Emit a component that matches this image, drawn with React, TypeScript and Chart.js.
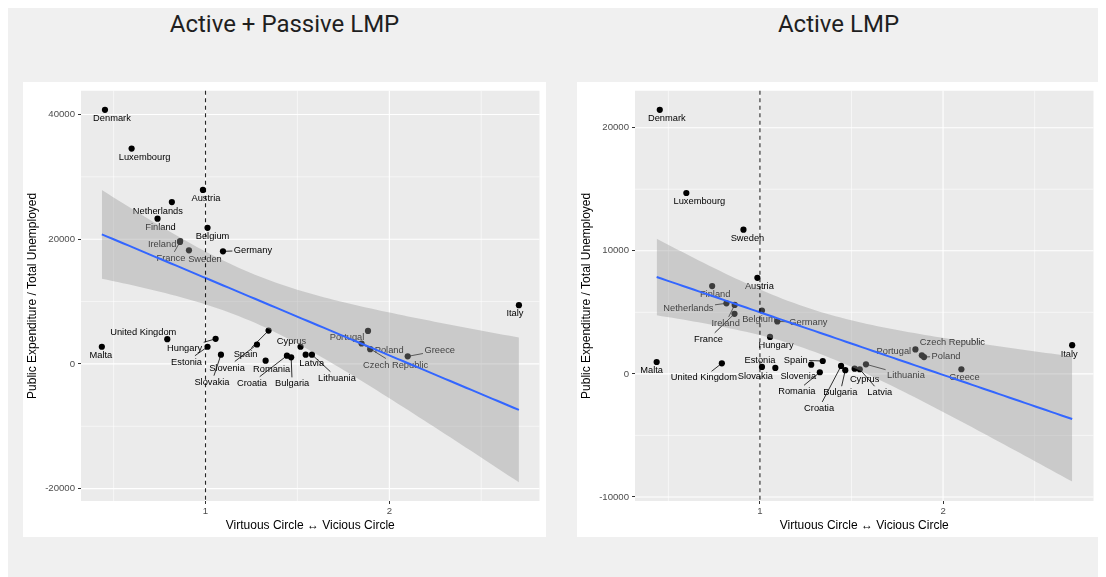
import React, { useEffect, useRef } from "react";
import { Chart, registerables } from "chart.js";

Chart.register(...registerables);

// ---------------- data ----------------
const countries = [
  "Denmark", "Luxembourg", "Austria", "Netherlands", "Finland", "Belgium", "Ireland",
  "France", "Sweden", "Germany", "Malta", "United Kingdom", "Hungary", "Estonia",
  "Slovakia", "Slovenia", "Spain", "Romania", "Croatia", "Bulgaria", "Cyprus",
  "Latvia", "Lithuania", "Portugal", "Czech Republic", "Poland", "Greece", "Italy",
];

// Virtuous Circle <-> Vicious Circle score (x)
const circleScore = [
  0.453, 0.598, 0.986, 0.817, 0.739, 1.011, 0.862,
  0.861, 0.91, 1.095, 0.436, 0.792, 1.055, 1.011,
  1.084, 1.28, 1.343, 1.327, 1.443, 1.466, 1.517,
  1.545, 1.579, 1.884, 1.849, 1.896, 2.1, 2.705,
];

// Public expenditure / total unemployed, Active + Passive LMP
const activePassiveSpend = [
  40750, 34530, 27903, 25949, 23295, 21817, 19688,
  19560, 18210, 18051, 2749, 3957, 4020, 2749,
  1478, 3114, 5339, 524, 1319, 1049, 2749,
  1478, 1478, 5291, 3273, 2368, 1208, 9423,
];

// Public expenditure / total unemployed, Active LMP
const activeSpend = [
  21450, 14692, 7799, 5732, 7132, 5145, 5604,
  4880, 11716, 4260, 963, 858, 2998, 561,
  480, 746, 1043, 130, 641, 295, 424,
  376, 778, 1502, 1984, 1365, 376, 2330,
];

const xTicks = [1, 2];
const xMinorTicks = [0.5, 1.5, 2.5];
const apYTicks = [-20000, 0, 20000, 40000];
const apYMinor = [-10000, 10000, 30000];
const aYTicks = [-10000, 0, 10000, 20000];
const aYMinor = [-5000, 5000, 15000];

const titleLeft = "Active + Passive LMP";
const titleRight = "Active LMP";
const xTitle = "Virtuous Circle \u2194 Vicious Circle";
const yTitle = "Public Expenditure / Total Unemployed";

// t quantile (0.975) for n - 2 = 26 degrees of freedom
const T_CRIT = 2.0555;

// ---------------- label layout (pixel nudges, like ggrepel) ----------------
type Offset = [number, number];
const apLabelNudge: Offset[] = [
  [7, 8], [13, 8], [3, 8], [-14, 9], [3, 8], [5, 8], [-18, 3],
  [-9, 16], [16, 9], [30, -1], [-1, 8], [-24, -7], [-31, 9], [-21, 15],
  [-9, 27], [-30, 23], [-23, 23], [6, 8], [-35, 27], [1, 26], [-9, -6],
  [6, 8], [25, 23], [-21, 6], [34, 21], [19, 1], [32, -6], [-4, 8],
];
const apSegments = [
  "France", "Germany", "Hungary", "Estonia", "Slovakia", "Slovenia", "Spain",
  "Croatia", "Bulgaria", "Lithuania", "Czech Republic", "Poland", "Greece",
];
const aLabelNudge: Offset[] = [
  [7, 8], [13, 8], [2, 8], [-38, 5], [3, 8], [-3, 8], [-9, 18],
  [-26, 25], [4, 8], [31, 1], [-5, 8], [-18, 14], [6, 8], [-2, -7],
  [-20, 8], [-13, 11], [-27, -1], [-23, 19], [-22, 42], [-5, 22], [10, 10],
  [20, 23], [40, 11], [-28, -4], [37, -8], [22, -1], [3, 8], [-3, 9],
];
const aSegments = [
  "Netherlands", "Ireland", "France", "Germany", "United Kingdom", "Spain",
  "Romania", "Croatia", "Bulgaria", "Latvia", "Lithuania", "Poland",
];

const AXIS_FONT = '"Liberation Sans", Arial, Helvetica, sans-serif';

function fitLm(xs: number[], ys: number[]) {
  const n = xs.length;
  const mx = xs.reduce((a, b) => a + b, 0) / n;
  const my = ys.reduce((a, b) => a + b, 0) / n;
  let sxx = 0, sxy = 0;
  for (let i = 0; i < n; i++) {
    sxx += (xs[i] - mx) ** 2;
    sxy += (xs[i] - mx) * (ys[i] - my);
  }
  const b = sxy / sxx;
  const a = my - b * mx;
  let rss = 0;
  for (let i = 0; i < n; i++) rss += (ys[i] - (a + b * xs[i])) ** 2;
  const s = Math.sqrt(rss / (n - 2));
  return { a, b, s, mx, sxx, n };
}

type PanelProps = {
  values: number[];
  yMin: number;
  yMax: number;
  xMin: number;
  xMax: number;
  yTicks: number[];
  yMinor: number[];
  nudge: Offset[];
  segments: string[];
};

function ScatterPanel(p: PanelProps) {
  const ref = useRef<HTMLCanvasElement | null>(null);
  useEffect(() => {
    const canvas = ref.current;
    if (!canvas) return;
    const fit = fitLm(circleScore, p.values);
    const lo = Math.min(...circleScore);
    const hi = Math.max(...circleScore);
    const N = 80;
    const upper: { x: number; y: number }[] = [];
    const lower: { x: number; y: number }[] = [];
    const line: { x: number; y: number }[] = [];
    for (let k = 0; k < N; k++) {
      const x = lo + ((hi - lo) * k) / (N - 1);
      const yh = fit.a + fit.b * x;
      const se = fit.s * Math.sqrt(1 / fit.n + (x - fit.mx) ** 2 / fit.sxx);
      upper.push({ x, y: yh + T_CRIT * se });
      lower.push({ x, y: yh - T_CRIT * se });
      line.push({ x, y: yh });
    }
    const pts = circleScore.map((x, i) => ({ x, y: p.values[i] }));

    const panelPlugin = {
      id: "panelBg",
      beforeDraw(chart: any) {
        const { ctx, chartArea: ca, scales } = chart;
        ctx.save();
        ctx.fillStyle = "#EBEBEB";
        ctx.fillRect(ca.left, ca.top, ca.right - ca.left, ca.bottom - ca.top);
        ctx.strokeStyle = "#FFFFFF";
        ctx.lineWidth = 0.55;
        ctx.beginPath();
        xMinorTicks.forEach((v) => {
          const x = scales.x.getPixelForValue(v);
          ctx.moveTo(x, ca.top);
          ctx.lineTo(x, ca.bottom);
        });
        p.yMinor.forEach((v) => {
          const y = scales.y.getPixelForValue(v);
          ctx.moveTo(ca.left, y);
          ctx.lineTo(ca.right, y);
        });
        ctx.stroke();
        ctx.lineWidth = 1.1;
        ctx.beginPath();
        xTicks.forEach((v) => {
          const x = scales.x.getPixelForValue(v);
          ctx.moveTo(x, ca.top);
          ctx.lineTo(x, ca.bottom);
        });
        p.yTicks.forEach((v) => {
          const y = scales.y.getPixelForValue(v);
          ctx.moveTo(ca.left, y);
          ctx.lineTo(ca.right, y);
        });
        ctx.stroke();
        ctx.restore();
      },
    };

    const labelPlugin = {
      id: "countryLabels",
      afterDatasetDraw(chart: any, args: any) {
        if (args.index !== 0) return;
        const { ctx, scales, chartArea: ca } = chart;
        ctx.save();
        ctx.beginPath();
        ctx.rect(ca.left, ca.top, ca.right - ca.left, ca.bottom - ca.top);
        ctx.clip();
        ctx.font = `9.3px ${AXIS_FONT}`;
        ctx.textAlign = "center";
        ctx.textBaseline = "middle";
        countries.forEach((name, i) => {
          const px = scales.x.getPixelForValue(circleScore[i]);
          const py = scales.y.getPixelForValue(p.values[i]);
          const [dx, dy] = p.nudge[i];
          const cx = px + dx;
          const cy = py + dy;
          if (p.segments.includes(name)) {
            const w = ctx.measureText(name).width;
            const hw = w / 2 + 1.5;
            const hh = 6;
            const vx = px - cx;
            const vy = py - cy;
            const t = Math.min(
              vx !== 0 ? hw / Math.abs(vx) : Infinity,
              vy !== 0 ? hh / Math.abs(vy) : Infinity
            );
            if (t < 1) {
              ctx.strokeStyle = "#000";
              ctx.lineWidth = 0.8;
              ctx.beginPath();
              ctx.moveTo(cx + vx * t, cy + vy * t);
              ctx.lineTo(px, py);
              ctx.stroke();
            }
          }
          ctx.fillStyle = "#000";
          ctx.fillText(name, cx, cy + 0.5);
        });
        ctx.restore();
      },
    };

    const overlayPlugin = {
      id: "overlay",
      afterDatasetsDraw(chart: any) {
        const { ctx, scales, chartArea: ca } = chart;
        const x = scales.x.getPixelForValue(1);
        ctx.save();
        ctx.strokeStyle = "rgba(0,0,0,0.85)";
        ctx.lineWidth = 1.1;
        ctx.setLineDash([4, 3.5]);
        ctx.beginPath();
        ctx.moveTo(x, ca.top);
        ctx.lineTo(x, ca.bottom);
        ctx.stroke();
        ctx.restore();
      },
      afterDraw(chart: any) {
        const { ctx, chartArea: ca, height } = chart;
        ctx.save();
        ctx.fillStyle = "#000";
        ctx.font = `12px ${AXIS_FONT}`;
        ctx.textAlign = "center";
        ctx.textBaseline = "middle";
        ctx.fillText(xTitle, (ca.left + ca.right) / 2, height - 11);
        ctx.translate(10, (ca.top + ca.bottom) / 2);
        ctx.rotate(-Math.PI / 2);
        ctx.fillText(yTitle, 0, 0);
        ctx.restore();
      },
    };

    const tickFont = { family: AXIS_FONT, size: 9.6 };
    const chart = new Chart(canvas, {
      type: "scatter",
      data: {
        datasets: [
          {
            type: "scatter",
            data: pts,
            pointRadius: 3.1,
            pointBackgroundColor: "#000",
            pointBorderWidth: 0,
            pointBorderColor: "transparent",
            order: 4,
          } as any,
          {
            type: "line",
            data: upper,
            fill: "+1",
            backgroundColor: "rgba(153,153,153,0.4)",
            borderColor: "transparent",
            borderWidth: 0,
            pointRadius: 0,
            tension: 0,
            order: 3,
          } as any,
          {
            type: "line",
            data: lower,
            fill: false,
            borderColor: "transparent",
            borderWidth: 0,
            pointRadius: 0,
            tension: 0,
            order: 2,
          } as any,
          {
            type: "line",
            data: line,
            fill: false,
            borderColor: "#3366FF",
            borderWidth: 2,
            pointRadius: 0,
            tension: 0,
            order: 1,
          } as any,
        ],
      },
      options: {
        animation: false,
        responsive: false,
        devicePixelRatio: 1,
        events: [],
        layout: { padding: { top: 5, right: 6.5, left: 0, bottom: 0 } },
        plugins: { legend: { display: false }, tooltip: { enabled: false }, title: { display: false } },
        scales: {
          x: {
            type: "linear",
            position: "bottom",
            min: p.xMin,
            max: p.xMax,
            afterBuildTicks: (s: any) => {
              s.ticks = xTicks.map((v) => ({ value: v }));
            },
            afterFit: (s: any) => {
              s.height = 36;
            },
            ticks: {
              autoSkip: false,
              maxRotation: 0,
              padding: 2,
              color: "#4D4D4D",
              font: tickFont,
              callback: (v: any) => String(v),
            },
            grid: { drawOnChartArea: false, drawTicks: true, tickLength: 3, tickColor: "#333333", tickWidth: 1 },
            border: { display: false },
          },
          y: {
            type: "linear",
            position: "left",
            min: p.yMin,
            max: p.yMax,
            afterBuildTicks: (s: any) => {
              s.ticks = p.yTicks.map((v) => ({ value: v }));
            },
            afterFit: (s: any) => {
              s.width = 58;
            },
            ticks: {
              autoSkip: false,
              padding: 3,
              color: "#4D4D4D",
              font: tickFont,
              callback: (v: any) => String(v),
            },
            grid: { drawOnChartArea: false, drawTicks: true, tickLength: 3, tickColor: "#333333", tickWidth: 1 },
            border: { display: false },
          },
        },
      } as any,
      plugins: [panelPlugin, labelPlugin, overlayPlugin] as any,
    });
    return () => chart.destroy();
  }, []);
  return <canvas ref={ref} width={523} height={455} style={{ display: "block" }} />;
}

const titleStyle: React.CSSProperties = {
  position: "absolute",
  top: 4,
  width: 523,
  textAlign: "center",
  fontFamily: "Roboto, 'Noto Sans', sans-serif",
  fontSize: 24,
  lineHeight: "24px",
  color: "#1f1f1f",
};

const cardStyle: React.CSSProperties = {
  position: "absolute",
  top: 74,
  width: 523,
  height: 455,
  background: "#FFFFFF",
};

export default function App() {
  return (
    <div
      style={{
        position: "absolute",
        top: 8,
        left: 8,
        width: 1090,
        height: 569,
        background: "#F0F0F0",
        overflow: "hidden",
      }}
    >
      <div style={{ ...titleStyle, left: 15 }}>{titleLeft}</div>
      <div style={{ ...titleStyle, left: 569 }}>{titleRight}</div>
      <div style={{ ...cardStyle, left: 15 }}>
        <ScatterPanel
          values={activePassiveSpend}
          xMin={0.3226}
          xMax={2.817}
          yMin={-21986}
          yMax={43800}
          yTicks={apYTicks}
          yMinor={apYMinor}
          nudge={apLabelNudge}
          segments={apSegments}
        />
      </div>
      <div style={{ ...cardStyle, left: 569 }}>
        <ScatterPanel
          values={activeSpend}
          xMin={0.3177}
          xMax={2.8215}
          yMin={-10330}
          yMax={23000}
          yTicks={aYTicks}
          yMinor={aYMinor}
          nudge={aLabelNudge}
          segments={aSegments}
        />
      </div>
    </div>
  );
}
